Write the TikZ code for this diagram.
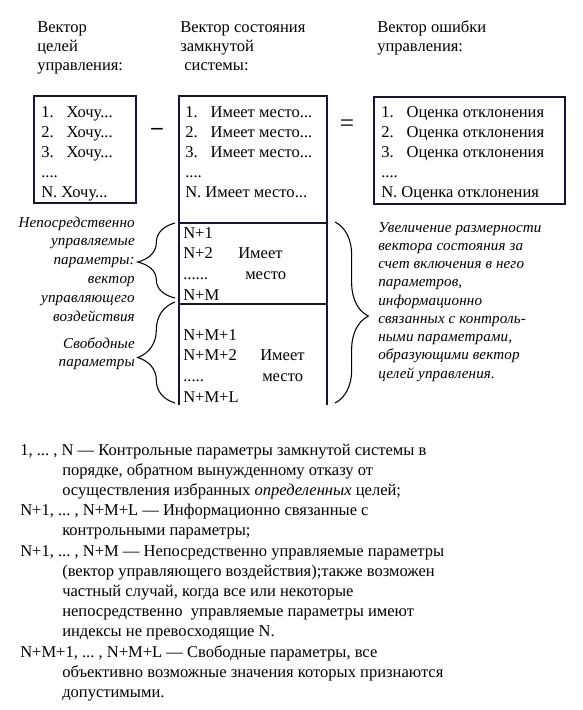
\documentclass[tikz,border=0pt]{standalone}
\usepackage{fontspec}
\setmainfont{Liberation Serif}
\newfontfamily\notefont{Liberation Serif}[LetterSpace=1]
\usepackage{tikz}
\usetikzlibrary{decorations.pathreplacing}
\definecolor{boxcol}{HTML}{151535}
\newcommand{\vnum}[1]{\makebox[19pt][l]{#1}}
\newcommand{\tdots}{...}
\tikzstyle{vec_frame}=[draw=boxcol, line width=2.2pt, line join=miter]
\tikzstyle{vec_rule}=[draw=boxcol, line width=0.8pt]
\tikzstyle{vec_text}=[anchor=base west, inner sep=0pt, font=\fontsize{12.4}{14}\selectfont]
\tikzstyle{note_left}=[anchor=base east, inner sep=0pt, font=\fontsize{11.3}{14}\notefont\itshape]
\tikzstyle{note_right}=[anchor=base west, inner sep=0pt, font=\fontsize{11.3}{14}\notefont\itshape]
\tikzstyle{note_brace}=[draw=black, line width=0.8pt, decorate]

\begin{document}
\begin{tikzpicture}[x=0.75pt,y=-0.75pt]
\useasboundingbox (0,0) rectangle (582,710);
% headings
\foreach \t [count=\i from 0] in {Вектор, целей, управления:}
  \node[vec_text] (head_goal\i) at (37,33+18.5*\i) {\t};
\foreach \t [count=\i from 0] in {Вектор состояния, замкнутой, \ системы:}
  \node[vec_text] (head_state\i) at (180,33+18.5*\i) {\t};
\foreach \t [count=\i from 0] in {Вектор ошибки, управления:}
  \node[vec_text] (head_err\i) at (377,33+18.5*\i) {\t};
% goal vector
\draw[vec_frame] (34,96) rectangle (136,203);
\foreach \t [count=\i from 0] in {{\vnum{1.}Хочу\tdots},{\vnum{2.}Хочу\tdots},{\vnum{3.}Хочу\tdots},{\tdots.},{N. Хочу\tdots}}
  \node[vec_text] (goal\i) at (41,117.5+19.9*\i) {\t};
\node[inner sep=0pt, font=\fontsize{17}{17}\bfseries] (minus) at (157,131) {–};
% state vector
\coordinate (st_nw) at (179,96);
\coordinate (st_ne) at (327,96);
\coordinate (st_sw) at (179,405);
\coordinate (st_se) at (327,405);
\draw[vec_frame] (st_sw) -- (st_nw) -- (st_ne) -- (st_se);
\draw[vec_rule] (179,223) -- (327,223);
\draw[vec_rule] (179,304) -- (327,304);
\foreach \t [count=\i from 0] in {{\vnum{1.}Имеет место\tdots},{\vnum{2.}Имеет место\tdots},{\vnum{3.}Имеет место\tdots},{\tdots.},{N. Имеет место\tdots}}
  \node[vec_text] (state\i) at (185,117.5+19.9*\i) {\t};
\foreach \t [count=\i from 0] in {N+1, N+2, \tdots\tdots, N+M}
  \node[vec_text] (ctrl\i) at (183,238+20.7*\i) {\t};
\node[vec_text] (ctrl_a) at (238,258.7) {Имеет};
\node[vec_text] (ctrl_b) at (245,279.4) {место};
\foreach \t [count=\i from 0] in {N+M+1, N+M+2, \tdots.., N+M+L}
  \node[vec_text] (free\i) at (183,340+20.7*\i) {\t};
\node[vec_text] (free_a) at (260,360.7) {Имеет};
\node[vec_text] (free_b) at (262,381.4) {место};
\node[inner sep=0pt, font=\fontsize{19}{19}\selectfont] (equals) at (347,126) {=};
% error vector
\draw[vec_frame] (374,97) rectangle (565,204);
\foreach \t [count=\i from 0] in {{\vnum{1.}Оценка отклонения},{\vnum{2.}Оценка отклонения},{\vnum{3.}Оценка отклонения},{\tdots.},{N. Оценка отклонения}}
  \node[vec_text] (err\i) at (381,117.5+19.9*\i) {\t};
% braces
\coordinate (b1_top) at (175,223);
\coordinate (b1_bot) at (175,298);
\coordinate (b2_top) at (175,302);
\coordinate (b2_bot) at (175,403);
\coordinate (b3_top) at (335,222);
\coordinate (b3_bot) at (335,403);
\draw[note_brace, decoration={brace, amplitude=28pt, aspect=0.48}] (b1_bot) -- (b1_top);
\draw[note_brace, decoration={brace, amplitude=28pt, aspect=0.45}] (b2_bot) -- (b2_top);
\draw[note_brace, decoration={brace, amplitude=25pt, aspect=0.52}] (b3_top) -- (b3_bot);
\foreach \t [count=\i from 0] in {Непосредственно, управляемые, параметры:, вектор, управляющего, воздействия}
  \node[note_left] (note_ctrl\i) at (135,227+18.8*\i) {\t};
\foreach \t [count=\i from 0] in {Свободные, параметры}
  \node[note_left] (note_free\i) at (135,348+18.5*\i) {\t};
\foreach \t [count=\i from 0] in {Увеличение размерности, вектора состояния за, счет включения в него, {параметров,}, информационно, связанных с контроль-, {ными параметрами,}, образующими вектор, целей управления.}
  \node[note_right] (note_dim\i) at (378,232+18.25*\i) {\t};
% legend
\foreach \x/\t [count=\i from 0] in {
  20/{1, \tdots\ , N — Контрольные параметры замкнутой системы в},
  62/{порядке, обратном вынужденному отказу от},
  62/{осуществления избранных \textit{определенных} целей;},
  20/{N+1, \tdots\ , N+M+L — Информационно связанные с},
  62/{контрольными параметры;},
  20/{N+1, \tdots\ , N+M — Непосредственно управляемые параметры},
  62/{(вектор управляющего воздействия);также возможен},
  62/{частный случай, когда все или некоторые},
  62/{непосредственно~ управляемые параметры имеют},
  62/{индексы не превосходящие N.},
  20/{N+M+1, \tdots\ , N+M+L — Свободные параметры, все},
  62/{объективно возможные значения которых признаются},
  62/{допустимыми.}}
  \node[vec_text] (legend\i) at (\x,455+20.2*\i) {\t};
\end{tikzpicture}
\end{document}
